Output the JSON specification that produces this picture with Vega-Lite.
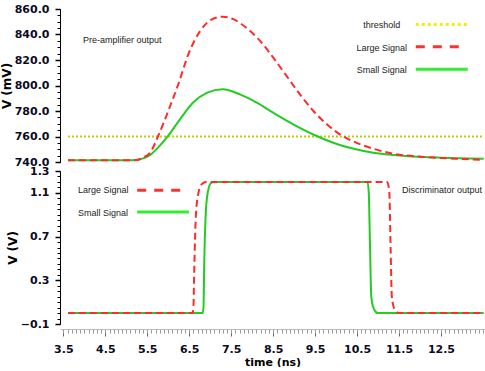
{
  "$schema": "https://vega.github.io/schema/vega-lite/v6.json",
  "padding": {"left": 0, "top": 3, "right": 0, "bottom": 0},
  "spacing": 9,
  "bounds": "flush",
  "config": {
    "view": {"stroke": null},
    "axis": {"grid": false, "labelFont": "DejaVu Sans", "labelFontWeight": "bold", "labelFontSize": 11, "labelColor": "#0b0b1e", "titleFont": "DejaVu Sans", "titleFontWeight": "bold", "titleFontSize": 12, "titleColor": "#000", "domainColor": "#000", "tickColor": "#000"},
    "text": {"font": "Liberation Sans", "fontSize": 9, "color": "#222"}
  },
  "datasets": {
    "pre": [
      {"series": "threshold", "t": 3.61, "v": 760}, {"series": "threshold", "t": 13.52, "v": 760},
      {"series": "Large Signal", "t": 3.61, "v": 741.3}, {"series": "Large Signal", "t": 5.0, "v": 741.3}, {"series": "Large Signal", "t": 5.25, "v": 741.6}, {"series": "Large Signal", "t": 5.4, "v": 743.5}, {"series": "Large Signal", "t": 5.57, "v": 747.3}, {"series": "Large Signal", "t": 5.76, "v": 760.4}, {"series": "Large Signal", "t": 6.0, "v": 780}, {"series": "Large Signal", "t": 6.24, "v": 801}, {"series": "Large Signal", "t": 6.48, "v": 824.5}, {"series": "Large Signal", "t": 6.76, "v": 842.7}, {"series": "Large Signal", "t": 7.04, "v": 851.9}, {"series": "Large Signal", "t": 7.3, "v": 854}, {"series": "Large Signal", "t": 7.55, "v": 852}, {"series": "Large Signal", "t": 7.87, "v": 845}, {"series": "Large Signal", "t": 8.19, "v": 835}, {"series": "Large Signal", "t": 8.5, "v": 822}, {"series": "Large Signal", "t": 8.82, "v": 807.5}, {"series": "Large Signal", "t": 9.14, "v": 793}, {"series": "Large Signal", "t": 9.46, "v": 780}, {"series": "Large Signal", "t": 9.78, "v": 769.6}, {"series": "Large Signal", "t": 10.09, "v": 761.7}, {"series": "Large Signal", "t": 10.49, "v": 755}, {"series": "Large Signal", "t": 10.89, "v": 750.4}, {"series": "Large Signal", "t": 11.36, "v": 746.5}, {"series": "Large Signal", "t": 12.08, "v": 744}, {"series": "Large Signal", "t": 12.87, "v": 742.6}, {"series": "Large Signal", "t": 13.52, "v": 741.6},
      {"series": "Small Signal", "t": 3.61, "v": 741.3}, {"series": "Small Signal", "t": 5.0, "v": 741.3}, {"series": "Small Signal", "t": 5.25, "v": 741.6}, {"series": "Small Signal", "t": 5.4, "v": 742.8}, {"series": "Small Signal", "t": 5.57, "v": 745.6}, {"series": "Small Signal", "t": 5.8, "v": 752.8}, {"series": "Small Signal", "t": 6.0, "v": 760.6}, {"series": "Small Signal", "t": 6.28, "v": 773.5}, {"series": "Small Signal", "t": 6.6, "v": 786.8}, {"series": "Small Signal", "t": 6.92, "v": 794.2}, {"series": "Small Signal", "t": 7.3, "v": 797}, {"series": "Small Signal", "t": 7.71, "v": 793}, {"series": "Small Signal", "t": 8.11, "v": 786.5}, {"series": "Small Signal", "t": 8.5, "v": 778.7}, {"series": "Small Signal", "t": 8.98, "v": 769.6}, {"series": "Small Signal", "t": 9.54, "v": 760.4}, {"series": "Small Signal", "t": 10.09, "v": 753.3}, {"series": "Small Signal", "t": 10.89, "v": 747.3}, {"series": "Small Signal", "t": 11.68, "v": 744.7}, {"series": "Small Signal", "t": 12.48, "v": 743.4}, {"series": "Small Signal", "t": 13.52, "v": 742.6}
    ],
    "disc": [
      {"series": "Large Signal", "t": 3.61, "v": 0}, {"series": "Large Signal", "t": 6.58, "v": 0}, {"series": "Large Signal", "t": 6.6, "v": 0.05}, {"series": "Large Signal", "t": 6.62, "v": 0.4}, {"series": "Large Signal", "t": 6.66, "v": 0.9}, {"series": "Large Signal", "t": 6.72, "v": 1.1}, {"series": "Large Signal", "t": 6.8, "v": 1.18}, {"series": "Large Signal", "t": 6.9, "v": 1.2}, {"series": "Large Signal", "t": 11.22, "v": 1.2}, {"series": "Large Signal", "t": 11.27, "v": 1.1}, {"series": "Large Signal", "t": 11.3, "v": 0.6}, {"series": "Large Signal", "t": 11.33, "v": 0.15}, {"series": "Large Signal", "t": 11.4, "v": 0.03}, {"series": "Large Signal", "t": 11.5, "v": 0}, {"series": "Large Signal", "t": 13.52, "v": 0},
      {"series": "Small Signal", "t": 3.61, "v": 0}, {"series": "Small Signal", "t": 6.82, "v": 0}, {"series": "Small Signal", "t": 6.84, "v": 0.05}, {"series": "Small Signal", "t": 6.86, "v": 0.5}, {"series": "Small Signal", "t": 6.9, "v": 0.95}, {"series": "Small Signal", "t": 6.95, "v": 1.12}, {"series": "Small Signal", "t": 7.02, "v": 1.19}, {"series": "Small Signal", "t": 7.1, "v": 1.2}, {"series": "Small Signal", "t": 10.75, "v": 1.2}, {"series": "Small Signal", "t": 10.78, "v": 1.1}, {"series": "Small Signal", "t": 10.81, "v": 0.6}, {"series": "Small Signal", "t": 10.84, "v": 0.15}, {"series": "Small Signal", "t": 10.9, "v": 0.04}, {"series": "Small Signal", "t": 11.0, "v": 0}, {"series": "Small Signal", "t": 13.52, "v": 0}
    ],
    "topText": [
      {"label": "threshold", "t": 11.09, "v": 847.5},
      {"label": "Large Signal", "t": 11.09, "v": 829.6},
      {"label": "Small Signal", "t": 11.09, "v": 811.9}
    ],
    "topNote": [{"label": "Pre-amplifier output", "t": 3.97, "v": 835.7}],
    "topKey": [
      {"series": "threshold", "t1": 11.9, "t2": 13.12, "v": 847.9},
      {"series": "Large Signal", "t1": 11.9, "t2": 13.0, "v": 830.4},
      {"series": "Small Signal", "t1": 11.9, "t2": 13.14, "v": 812.7}
    ],
    "botText": [
      {"label": "Large Signal", "t": 3.85, "v": 1.123},
      {"label": "Small Signal", "t": 3.85, "v": 0.913},
      {"label": "Discriminator output", "t": 11.57, "v": 1.123}
    ],
    "botKey": [
      {"series": "Large Signal", "t1": 5.26, "t2": 6.33, "v": 1.123},
      {"series": "Small Signal", "t1": 5.26, "t2": 6.49, "v": 0.925}
    ]
  },
  "vconcat": [
    {
      "width": 425,
      "height": 153,
      "resolve": {"axis": {"x": "independent", "y": "independent"}},
      "layer": [
        {
          "data": {"name": "pre"},
          "transform": [{"filter": "datum.series === 'threshold'"}],
          "mark": {"type": "line", "color": "#c8c800", "strokeWidth": 2, "strokeDash": [2, 2]},
          "encoding": {
            "x": {"field": "t", "type": "quantitative", "scale": {"domain": [3.42, 13.55], "nice": false, "zero": false}, "axis": null},
            "y": {"field": "v", "type": "quantitative", "scale": {"domain": [740, 860], "nice": false, "zero": false},
                  "axis": {"orient": "left", "values": [740, 760, 780, 800, 820, 840, 860], "format": ".1f", "tickSize": 5, "tickWidth": 1.5, "labelPadding": 6, "title": "V (mV)", "titlePadding": 1}}
          }
        },
        {
          "data": {"name": "pre"},
          "transform": [{"filter": "datum.series === 'Small Signal'"}],
          "mark": {"type": "line", "color": "#22cc22", "strokeWidth": 2, "interpolate": "monotone"},
          "encoding": {
            "x": {"field": "t", "type": "quantitative", "scale": {"domain": [3.42, 13.55], "nice": false, "zero": false}, "axis": null},
            "y": {"field": "v", "type": "quantitative", "scale": {"domain": [740, 860], "nice": false, "zero": false},
                  "axis": {"orient": "left", "tickCount": 24, "labels": false, "domain": false, "tickSize": 3, "title": null}}
          }
        },
        {
          "data": {"name": "pre"},
          "transform": [{"filter": "datum.series === 'Large Signal'"}],
          "mark": {"type": "line", "color": "#ff2a2a", "strokeWidth": 2, "strokeDash": [7, 4], "interpolate": "monotone"},
          "encoding": {
            "x": {"field": "t", "type": "quantitative", "axis": null},
            "y": {"field": "v", "type": "quantitative", "axis": null}
          }
        },
        {
          "data": {"name": "topNote"},
          "mark": {"type": "text", "align": "left", "baseline": "middle"},
          "encoding": {
            "x": {"field": "t", "type": "quantitative", "axis": null},
            "y": {"field": "v", "type": "quantitative", "axis": null},
            "text": {"field": "label"}
          }
        },
        {
          "data": {"name": "topText"},
          "mark": {"type": "text", "align": "center", "baseline": "middle"},
          "encoding": {
            "x": {"field": "t", "type": "quantitative", "axis": null},
            "y": {"field": "v", "type": "quantitative", "axis": null},
            "text": {"field": "label"}
          }
        },
        {
          "data": {"name": "topKey"},
          "transform": [{"filter": "datum.series === 'threshold'"}],
          "mark": {"type": "rule", "color": "#f0f000", "strokeWidth": 3, "strokeDash": [3, 3]},
          "encoding": {
            "x": {"field": "t1", "type": "quantitative", "axis": null},
            "x2": {"field": "t2"},
            "y": {"field": "v", "type": "quantitative", "axis": null}
          }
        },
        {
          "data": {"name": "topKey"},
          "transform": [{"filter": "datum.series === 'Large Signal'"}],
          "mark": {"type": "rule", "color": "#ff3030", "strokeWidth": 3, "strokeDash": [9, 8]},
          "encoding": {
            "x": {"field": "t1", "type": "quantitative", "axis": null},
            "x2": {"field": "t2"},
            "y": {"field": "v", "type": "quantitative", "axis": null}
          }
        },
        {
          "data": {"name": "topKey"},
          "transform": [{"filter": "datum.series === 'Small Signal'"}],
          "mark": {"type": "rule", "color": "#30ee30", "strokeWidth": 3},
          "encoding": {
            "x": {"field": "t1", "type": "quantitative", "axis": null},
            "x2": {"field": "t2"},
            "y": {"field": "v", "type": "quantitative", "axis": null}
          }
        }
      ]
    },
    {
      "width": 425,
      "height": 153,
      "resolve": {"axis": {"x": "independent", "y": "independent"}},
      "layer": [
        {
          "data": {"name": "disc"},
          "transform": [{"filter": "datum.series === 'Small Signal'"}],
          "mark": {"type": "line", "color": "#22cc22", "strokeWidth": 2, "interpolate": "monotone"},
          "encoding": {
            "x": {"field": "t", "type": "quantitative", "scale": {"domain": [3.42, 13.55], "nice": false, "zero": false},
                  "axis": {"orient": "bottom", "values": [3.5, 4.5, 5.5, 6.5, 7.5, 8.5, 9.5, 10.5, 11.5, 12.5], "format": ".1f", "offset": 5, "tickSize": 7, "tickColor": "#666", "domain": false, "labelPadding": 7, "title": "time (ns)", "titlePadding": 2, "titleFontSize": 11}},
            "y": {"field": "v", "type": "quantitative", "scale": {"domain": [-0.1, 1.3], "nice": false, "zero": false},
                  "axis": {"orient": "left", "values": [-0.1, 0.3, 0.7, 1.1, 1.3], "format": ".1f", "tickSize": 5, "tickWidth": 1.5, "labelPadding": 6, "title": "V (V)", "titlePadding": 1}}
          }
        },
        {
          "data": {"name": "disc"},
          "transform": [{"filter": "datum.series === 'Large Signal'"}],
          "mark": {"type": "line", "color": "#ff2a2a", "strokeWidth": 2, "strokeDash": [7, 4], "interpolate": "monotone"},
          "encoding": {
            "x": {"field": "t", "type": "quantitative", "scale": {"domain": [3.42, 13.55], "nice": false, "zero": false},
                  "axis": {"orient": "bottom", "tickCount": 100, "labels": false, "offset": 5, "tickSize": 4, "tickColor": "#999", "domainColor": "#bbb", "title": null}},
            "y": {"field": "v", "type": "quantitative", "scale": {"domain": [-0.1, 1.3], "nice": false, "zero": false},
                  "axis": {"orient": "left", "tickCount": 28, "labels": false, "domain": false, "tickSize": 3, "title": null}}
          }
        },
        {
          "data": {"name": "botText"},
          "mark": {"type": "text", "align": "left", "baseline": "middle"},
          "encoding": {
            "x": {"field": "t", "type": "quantitative", "axis": null},
            "y": {"field": "v", "type": "quantitative", "axis": null},
            "text": {"field": "label"}
          }
        },
        {
          "data": {"name": "botKey"},
          "transform": [{"filter": "datum.series === 'Large Signal'"}],
          "mark": {"type": "rule", "color": "#ff3030", "strokeWidth": 3, "strokeDash": [9, 8]},
          "encoding": {
            "x": {"field": "t1", "type": "quantitative", "axis": null},
            "x2": {"field": "t2"},
            "y": {"field": "v", "type": "quantitative", "axis": null}
          }
        },
        {
          "data": {"name": "botKey"},
          "transform": [{"filter": "datum.series === 'Small Signal'"}],
          "mark": {"type": "rule", "color": "#30ee30", "strokeWidth": 3},
          "encoding": {
            "x": {"field": "t1", "type": "quantitative", "axis": null},
            "x2": {"field": "t2"},
            "y": {"field": "v", "type": "quantitative", "axis": null}
          }
        }
      ]
    }
  ]
}
